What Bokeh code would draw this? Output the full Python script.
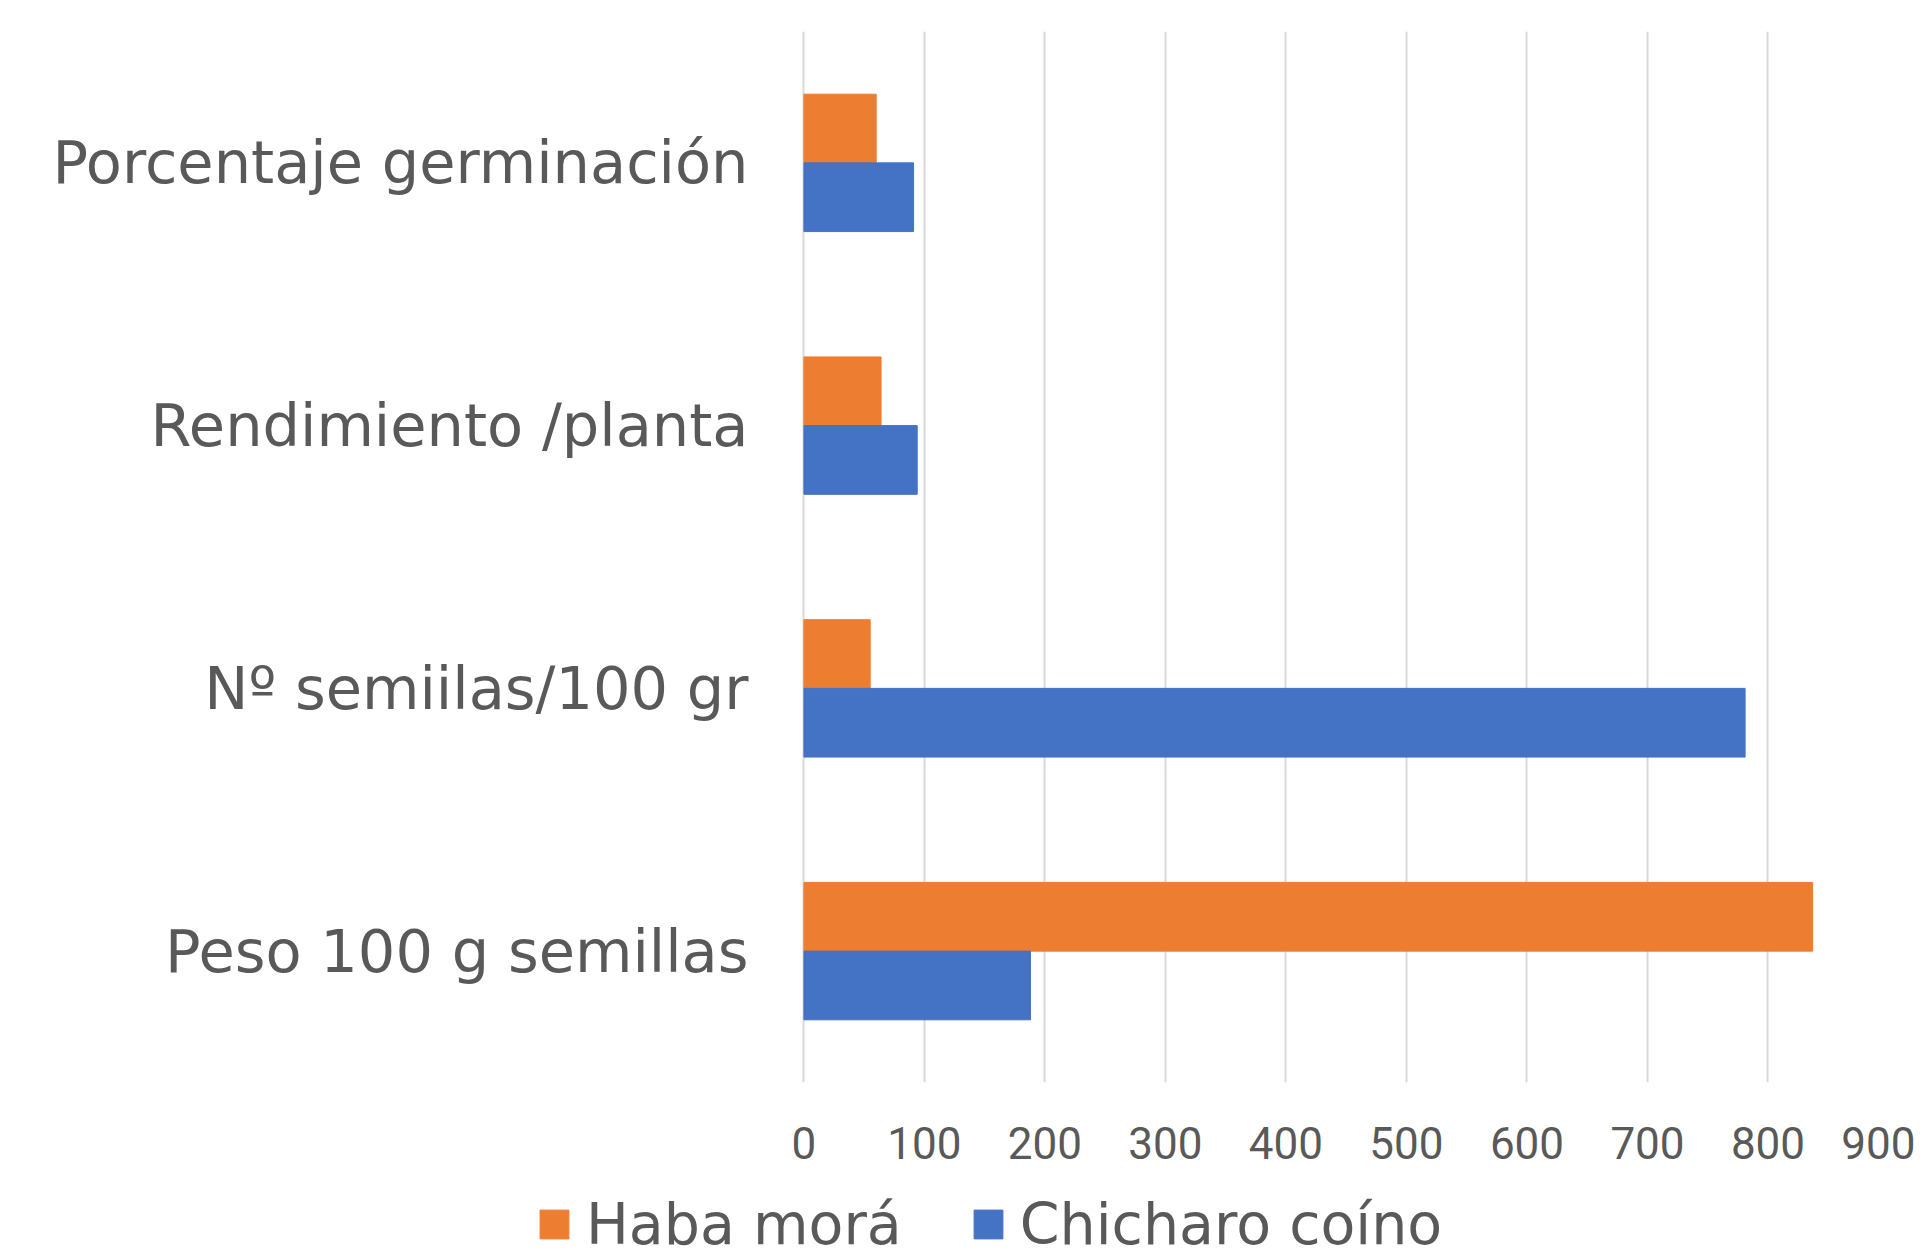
from bokeh.plotting import figure
from bokeh.layouts import column
from bokeh.models import FactorRange, Range1d, Legend, LegendItem, ColumnDataSource, FixedTicker
from bokeh.transform import dodge
from bokeh.embed import file_html
from bokeh.resources import INLINE

categories = ["Porcentaje germinación", "Rendimiento /planta", "Nº semiilas/100 gr", "Peso 100 g semillas"]
haba_mora = [60, 64, 55, 837]
chicharo_coino = [91, 94, 781, 188]
x_ticks = [0, 100, 200, 300, 400, 500, 600, 700, 800, 900]
series_names = ["Haba morá", "Chicharo coíno"]
colors = ["#ED7D31", "#4472C4"]

src = ColumnDataSource(dict(cat=categories, haba=haba_mora, chich=chicharo_coino))

p = figure(width=1915, height=1180, output_backend="svg", toolbar_location=None,
           y_range=FactorRange(*reversed(categories)), x_range=Range1d(-2, 900),
           min_border_left=801, min_border_right=27, min_border_top=31, min_border_bottom=98)
p.outline_line_color = None
p.background_fill_color = "white"

r1 = p.hbar(y=dodge("cat", 0.1307, range=p.y_range), right="haba", left=0, height=0.2615,
            source=src, fill_color=colors[0], line_color=colors[0])
r2 = p.hbar(y=dodge("cat", -0.1307, range=p.y_range), right="chich", left=0, height=0.2615,
            source=src, fill_color=colors[1], line_color=colors[1])

p.ygrid.grid_line_color = None
p.xgrid.grid_line_color = "#D9D9D9"
p.xgrid.grid_line_width = 2
p.xaxis.ticker = FixedTicker(ticks=x_ticks)
for ax in (p.xaxis, p.yaxis):
    ax.axis_line_color = None
    ax.major_tick_line_color = None
    ax.minor_tick_line_color = None
p.xaxis.major_label_text_font = "Roboto"
p.xaxis.major_label_text_font_size = "44px"
p.xaxis.major_label_text_color = "#595959"
p.xaxis.major_label_standoff = 38
p.yaxis.major_label_text_font = "DejaVu Sans"
p.yaxis.major_label_text_font_size = "59px"
p.yaxis.major_label_text_color = "#595959"
p.yaxis.major_label_standoff = 47

# legend strip below the chart
p2 = figure(width=1915, height=77, output_backend="svg", toolbar_location=None,
            x_axis_location=None, y_axis_location=None,
            y_range=FactorRange(*categories), x_range=Range1d(-3000, -2000),
            min_border_left=0, min_border_right=0, min_border_top=0, min_border_bottom=0)
p2.frame_align = False
p2.outline_line_color = None
p2.xgrid.grid_line_color = None
p2.ygrid.grid_line_color = None
l1 = p2.hbar(y="cat", right="haba", left=0, height=0.5, source=src,
             fill_color=colors[0], line_color=colors[0])
l2 = p2.hbar(y="cat", right="chich", left=0, height=0.5, source=src,
             fill_color=colors[1], line_color=colors[1])

legend = Legend(items=[LegendItem(label=series_names[0], renderers=[l1]),
                       LegendItem(label=series_names[1], renderers=[l2])],
                orientation="horizontal", location=(536, 0))
legend.label_text_font = "DejaVu Sans"
legend.label_text_font_size = "57px"
legend.label_text_color = "#595959"
legend.glyph_width = 36
legend.glyph_height = 36
legend.label_standoff = 14
legend.spacing = 68
legend.padding = 0
legend.margin = 0
legend.border_line_color = None
legend.background_fill_alpha = 0
p2.add_layout(legend, "center")

layout = column(p, p2, spacing=0)
open("out.html", "w").write(file_html(layout, INLINE))
